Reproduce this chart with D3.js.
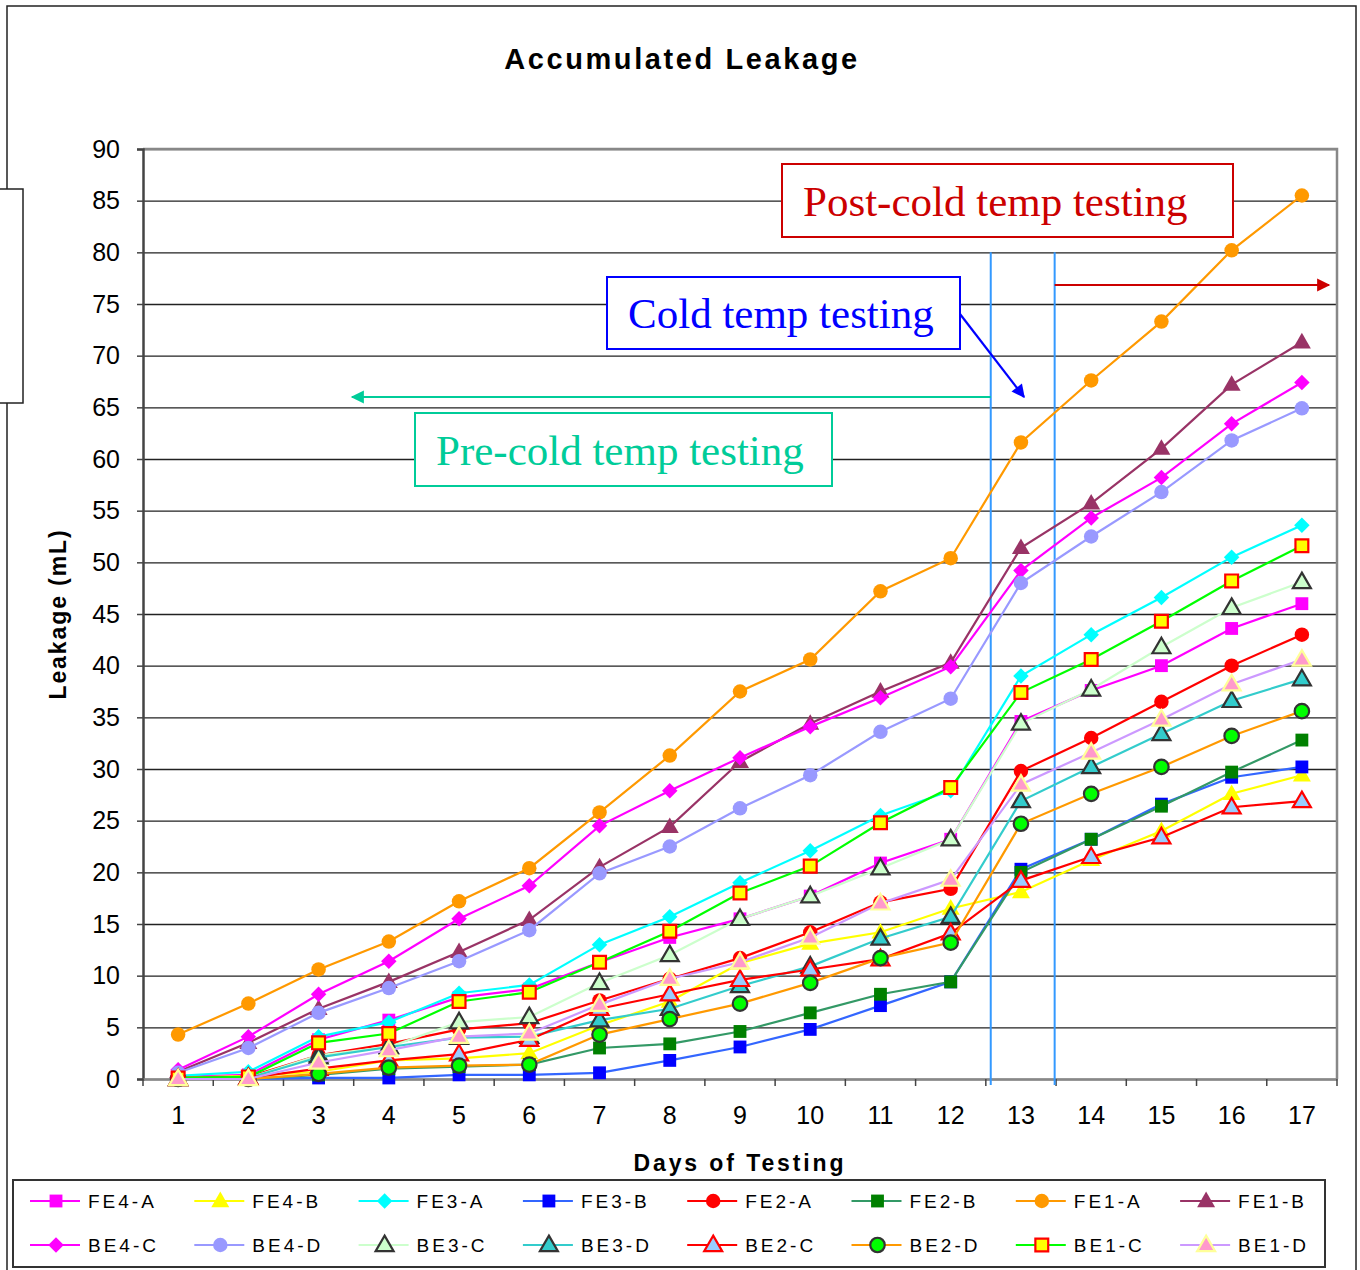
<!DOCTYPE html>
<html>
<head>
<meta charset="utf-8">
<script src="https://cdn.jsdelivr.net/npm/d3@7"></script>
<style>
  body { margin: 0; background: #fff; }
  svg { display: block; }
</style>
</head>
<body>
<svg id="chart" width="1360" height="1270" font-family="Liberation Sans, Arial, sans-serif"></svg>
<script>
/// data
var days = [1,2,3,4,5,6,7,8,9,10,11,12,13,14,15,16,17];
var yTicks = [0,5,10,15,20,25,30,35,40,45,50,55,60,65,70,75,80,85,90];

var FE4_A = [0.2,0.4,3.8,5.7,7.9,8.7,11.3,13.7,15.5,17.7,20.9,23.2,34.6,37.6,40.0,43.6,46.0];
var FE4_B = [0.1,0.3,0.7,1.8,2.0,2.5,5.2,7.5,11.2,13.1,14.2,16.5,18.1,21.2,24.0,27.6,29.4];
var FE3_A = [0.3,0.7,4.1,5.5,8.3,9.1,13.0,15.7,19.0,22.1,25.5,27.9,39.0,43.0,46.6,50.5,53.6];
var FE3_B = [0.0,0.0,0.1,0.1,0.4,0.4,0.6,1.8,3.1,4.8,7.1,9.4,20.3,23.2,26.6,29.2,30.2];
var FE2_A = [0.1,0.2,2.3,3.4,4.8,5.4,7.6,9.7,11.7,14.2,17.1,18.4,29.8,33.0,36.5,40.0,43.0];
var FE2_B = [0.0,0.0,0.4,1.0,1.2,1.4,3.0,3.4,4.6,6.4,8.2,9.4,20.0,23.2,26.4,29.7,32.8];
var FE1_A = [4.3,7.3,10.6,13.3,17.2,20.4,25.8,31.3,37.5,40.6,47.2,50.4,61.6,67.6,73.3,80.2,85.5];
var FE1_B = [0.7,3.5,6.8,9.4,12.3,15.4,20.5,24.4,30.7,34.4,37.5,40.3,51.4,55.7,61.0,67.2,71.3];
var BE4_C = [0.9,4.1,8.2,11.4,15.5,18.7,24.5,27.9,31.1,34.1,36.9,39.9,49.2,54.3,58.2,63.4,67.4];
var BE4_D = [0.6,3.0,6.4,8.8,11.4,14.4,19.9,22.5,26.2,29.4,33.6,36.8,48.0,52.5,56.8,61.8,64.9];
var BE3_C = [0.0,0.1,2.3,3.1,5.5,6.0,9.3,12.0,15.5,17.7,20.4,23.2,34.4,37.7,41.8,45.6,48.1];
var BE3_D = [0.0,0.1,2.1,3.1,4.0,4.1,5.7,6.8,9.0,10.9,13.6,15.7,26.9,30.2,33.4,36.6,38.7];
var BE2_C = [0.0,0.1,1.0,1.8,2.4,3.8,6.8,8.2,9.6,10.6,11.6,14.1,19.2,21.5,23.4,26.3,26.9];
var BE2_D = [0.0,0.0,0.5,1.1,1.3,1.4,4.3,5.8,7.3,9.3,11.7,13.2,24.7,27.6,30.2,33.2,35.6];
var BE1_C = [0.1,0.2,3.5,4.4,7.5,8.4,11.3,14.3,18.0,20.6,24.8,28.2,37.4,40.6,44.3,48.2,51.6];
var BE1_D = [0.0,0.0,1.6,2.8,4.1,4.4,7.2,9.7,11.3,13.7,17.0,19.3,28.5,31.6,34.8,38.2,40.6];

var seriesNames = ["FE4-A","FE4-B","FE3-A","FE3-B","FE2-A","FE2-B","FE1-A","FE1-B",
                   "BE4-C","BE4-D","BE3-C","BE3-D","BE2-C","BE2-D","BE1-C","BE1-D"];
var seriesValues = [FE4_A,FE4_B,FE3_A,FE3_B,FE2_A,FE2_B,FE1_A,FE1_B,
                    BE4_C,BE4_D,BE3_C,BE3_D,BE2_C,BE2_D,BE1_C,BE1_D];

/// line colour, marker shape, marker fill, marker outline
var styles = {
  "FE4-A": {line:"#ff00ff", shape:"square",   fill:"#ff00ff", stroke:"none"},
  "FE4-B": {line:"#ffff00", shape:"triangle", fill:"#ffff00", stroke:"none"},
  "FE3-A": {line:"#00ffff", shape:"diamond",  fill:"#00ffff", stroke:"none"},
  "FE3-B": {line:"#3366ff", shape:"square",   fill:"#0000ff", stroke:"none"},
  "FE2-A": {line:"#ff0000", shape:"circle",   fill:"#ff0000", stroke:"none"},
  "FE2-B": {line:"#339966", shape:"square",   fill:"#008000", stroke:"none"},
  "FE1-A": {line:"#ff9900", shape:"circle",   fill:"#ff9900", stroke:"none"},
  "FE1-B": {line:"#993366", shape:"triangle", fill:"#993366", stroke:"none"},
  "BE4-C": {line:"#ff00ff", shape:"diamond",  fill:"#ff00ff", stroke:"none"},
  "BE4-D": {line:"#9999ff", shape:"circle",   fill:"#9999ff", stroke:"none"},
  "BE3-C": {line:"#ccffcc", shape:"triangle", fill:"#ccffcc", stroke:"#333333"},
  "BE3-D": {line:"#33cccc", shape:"triangle", fill:"#33cccc", stroke:"#333333"},
  "BE2-C": {line:"#ff0000", shape:"triangle", fill:"#99ccff", stroke:"#ff0000"},
  "BE2-D": {line:"#ff9900", shape:"circle",   fill:"#00ff00", stroke:"#333333"},
  "BE1-C": {line:"#00ff00", shape:"square",   fill:"#ffff00", stroke:"#ff0000"},
  "BE1-D": {line:"#cc99ff", shape:"triangle", fill:"#ff99cc", stroke:"#ffff99"}
};

var plot = {left:143, right:1337, top:149, bottom:1079};
var serif = "'Liberation Serif', 'Times New Roman', serif";

var svg = d3.select("#chart");

/// outer chart frame and the stray box at the left edge
svg.append("rect").attr("x",7).attr("y",6).attr("width",1349).attr("height",1275)
  .attr("fill","none").attr("stroke","#222").attr("stroke-width",1.5);
svg.append("rect").attr("x",-2).attr("y",189).attr("width",25).attr("height",214)
  .attr("fill","#fff").attr("stroke","#222").attr("stroke-width",1.5);

var x = d3.scaleBand().domain(days).range([plot.left, plot.right]);
var y = d3.scaleLinear().domain([0,90]).range([plot.bottom, plot.top]);
var cx = d => x(d) + x.bandwidth()/2;

/// gridlines
svg.append("g")
  .attr("transform","translate("+plot.left+",0)")
  .call(d3.axisLeft(y).tickValues(yTicks).tickSize(-(plot.right-plot.left)).tickFormat(""))
  .call(g => g.select(".domain").remove())
  .call(g => g.selectAll("line").attr("stroke","#222").attr("stroke-width",1.4));

/// plot border (top/right grey)
svg.append("path")
  .attr("d","M"+plot.left+","+plot.top+"H"+plot.right+"V"+plot.bottom)
  .attr("fill","none").attr("stroke","#888").attr("stroke-width",2.5);

/// y axis
var yAxis = svg.append("g")
  .attr("transform","translate("+plot.left+",0)")
  .call(d3.axisLeft(y).tickValues(yTicks).tickSize(6).tickPadding(17));
yAxis.select(".domain").attr("stroke","#444").attr("stroke-width",2.5);
yAxis.selectAll("line").attr("stroke","#444").attr("stroke-width",1.5);
yAxis.selectAll("text").attr("font-size",25).attr("fill","#000")
  .attr("font-family","Liberation Sans, Arial, sans-serif");

/// x axis: labels under categories, ticks between them
var xAxis = svg.append("g")
  .attr("transform","translate(0,"+plot.bottom+")")
  .call(d3.axisBottom(x).tickSize(0).tickPadding(27));
xAxis.select(".domain").attr("stroke","#888").attr("stroke-width",2.5);
xAxis.selectAll("text").attr("font-size",25).attr("fill","#000")
  .attr("font-family","Liberation Sans, Arial, sans-serif");
svg.append("g").selectAll("line")
  .data(days.concat([null]))
  .join("line")
  .attr("x1", (d,i) => plot.left + i*x.bandwidth())
  .attr("x2", (d,i) => plot.left + i*x.bandwidth())
  .attr("y1", plot.bottom).attr("y2", plot.bottom+7)
  .attr("stroke","#444").attr("stroke-width",1.5);

/// marker builder
function markerPath(shape){
  if (shape=="square")   return d3.symbol(d3.symbolSquare, 165)();
  if (shape=="diamond")  return d3.symbol(d3.symbolSquare, 120)();
  if (shape=="triangle") return d3.symbol(d3.symbolTriangle, 140)();
  return d3.symbol(d3.symbolCircle, 165)();
}
function drawMarker(g, st){
  g.append("path")
    .attr("d", markerPath(st.shape))
    .attr("transform", st.shape=="diamond" ? "rotate(45)" : (st.shape=="triangle" ? "translate(0,1)" : null))
    .attr("fill", st.fill)
    .attr("stroke", st.stroke)
    .attr("stroke-width", st.stroke=="none" ? 0 : 2.2);
}

/// period boundaries (in band units from the left of the plot)
var periodEdges = [12.07, 12.98];
svg.append("g").selectAll("line")
  .data(periodEdges)
  .join("line")
  .attr("x1", d => plot.left + d*x.bandwidth())
  .attr("x2", d => plot.left + d*x.bandwidth())
  .attr("y1", y(80)).attr("y2", plot.bottom+6)
  .attr("stroke","#3399ff").attr("stroke-width",2);

/// series
var line = d3.line().x((d,i) => cx(days[i])).y(d => y(d));
seriesNames.forEach(function(name, k){
  var st = styles[name];
  var vals = seriesValues[k];
  var g = svg.append("g").attr("class","series");
  g.append("path").datum(vals)
    .attr("d", line)
    .attr("fill","none")
    .attr("stroke", st.line)
    .attr("stroke-width", 2.2);
  g.selectAll("g.pt").data(vals).join("g")
    .attr("class","pt")
    .attr("transform", (d,i) => "translate("+cx(days[i])+","+y(d)+")")
    .each(function(){ drawMarker(d3.select(this), st); });
});

/// arrow heads
var defs = svg.append("defs");
[["teal","#00cc99"],["blue","#0000ff"],["red","#cc0000"]].forEach(function(a){
  defs.append("marker").attr("id","arr-"+a[0])
    .attr("viewBox","0 0 10 10").attr("refX",9).attr("refY",5)
    .attr("markerWidth",7).attr("markerHeight",6).attr("markerUnits","strokeWidth")
    .attr("orient","auto")
    .append("path").attr("d","M0,0L10,5L0,10Z").attr("fill",a[1]);
});

var edgeX = periodEdges.map(d => plot.left + d*x.bandwidth());
/// pre-cold arrow (to the left)
svg.append("line")
  .attr("x1", edgeX[0]).attr("y1", 397)
  .attr("x2", 352).attr("y2", 397)
  .attr("stroke","#00cc99").attr("stroke-width",2.2).attr("marker-end","url(#arr-teal)");
/// post-cold arrow (to the right)
svg.append("line")
  .attr("x1", edgeX[1]).attr("y1", 285)
  .attr("x2", 1329).attr("y2", 285)
  .attr("stroke","#cc0000").attr("stroke-width",2.2).attr("marker-end","url(#arr-red)");
/// cold arrow
svg.append("line")
  .attr("x1", 960).attr("y1", 314)
  .attr("x2", 1024).attr("y2", 397)
  .attr("stroke","#0000ff").attr("stroke-width",2.2).attr("marker-end","url(#arr-blue)");

/// annotation boxes
var notes = [
  {text:"Post-cold temp testing", x:782, y:164, w:451, h:73, c:"#cc0000"},
  {text:"Cold temp testing",      x:607, y:277, w:353, h:72, c:"#0000ff"},
  {text:"Pre-cold temp testing",  x:415, y:413, w:417, h:73, c:"#00cc99"}
];
notes.forEach(function(n){
  svg.append("rect").attr("x",n.x).attr("y",n.y).attr("width",n.w).attr("height",n.h)
    .attr("fill","#fff").attr("stroke",n.c).attr("stroke-width",2);
  svg.append("text").attr("x",n.x+21).attr("y",n.y+n.h/2+15)
    .style("font-family", serif)
    .attr("font-size",43).attr("fill",n.c)
    .text(n.text);
});

/// titles
svg.append("text").attr("x",682).attr("y",69).attr("text-anchor","middle")
  .attr("font-size",29).attr("font-weight","bold").attr("letter-spacing",2.6)
  .text("Accumulated Leakage");
svg.append("text").attr("x",740).attr("y",1171).attr("text-anchor","middle")
  .attr("font-size",23).attr("font-weight","bold").attr("letter-spacing",2.9)
  .text("Days of Testing");
svg.append("text")
  .attr("transform","translate(66,614) rotate(-90)")
  .attr("text-anchor","middle")
  .attr("font-size",23).attr("font-weight","bold").attr("letter-spacing",1.9)
  .text("Leakage (mL)");

/// legend
var leg = svg.append("g");
leg.append("rect").attr("x",13).attr("y",1180).attr("width",1312).attr("height",87)
  .attr("fill","#fff").attr("stroke","#333").attr("stroke-width",2);
seriesNames.forEach(function(name, k){
  var st = styles[name];
  var col = k % 8, row = Math.floor(k/8);
  var x0 = 30 + col*164.3, y0 = 1201 + row*44;
  var g = leg.append("g");
  g.append("line").attr("x1",x0).attr("x2",x0+50).attr("y1",y0).attr("y2",y0)
    .attr("stroke",st.line).attr("stroke-width",2.2);
  drawMarker(g.append("g").attr("transform","translate("+(x0+26)+","+y0+")"), st);
  g.append("text").attr("x",x0+58).attr("y",y0+7)
    .attr("font-size",19).attr("letter-spacing",3)
    .text(name);
});
</script>
</body>
</html>
